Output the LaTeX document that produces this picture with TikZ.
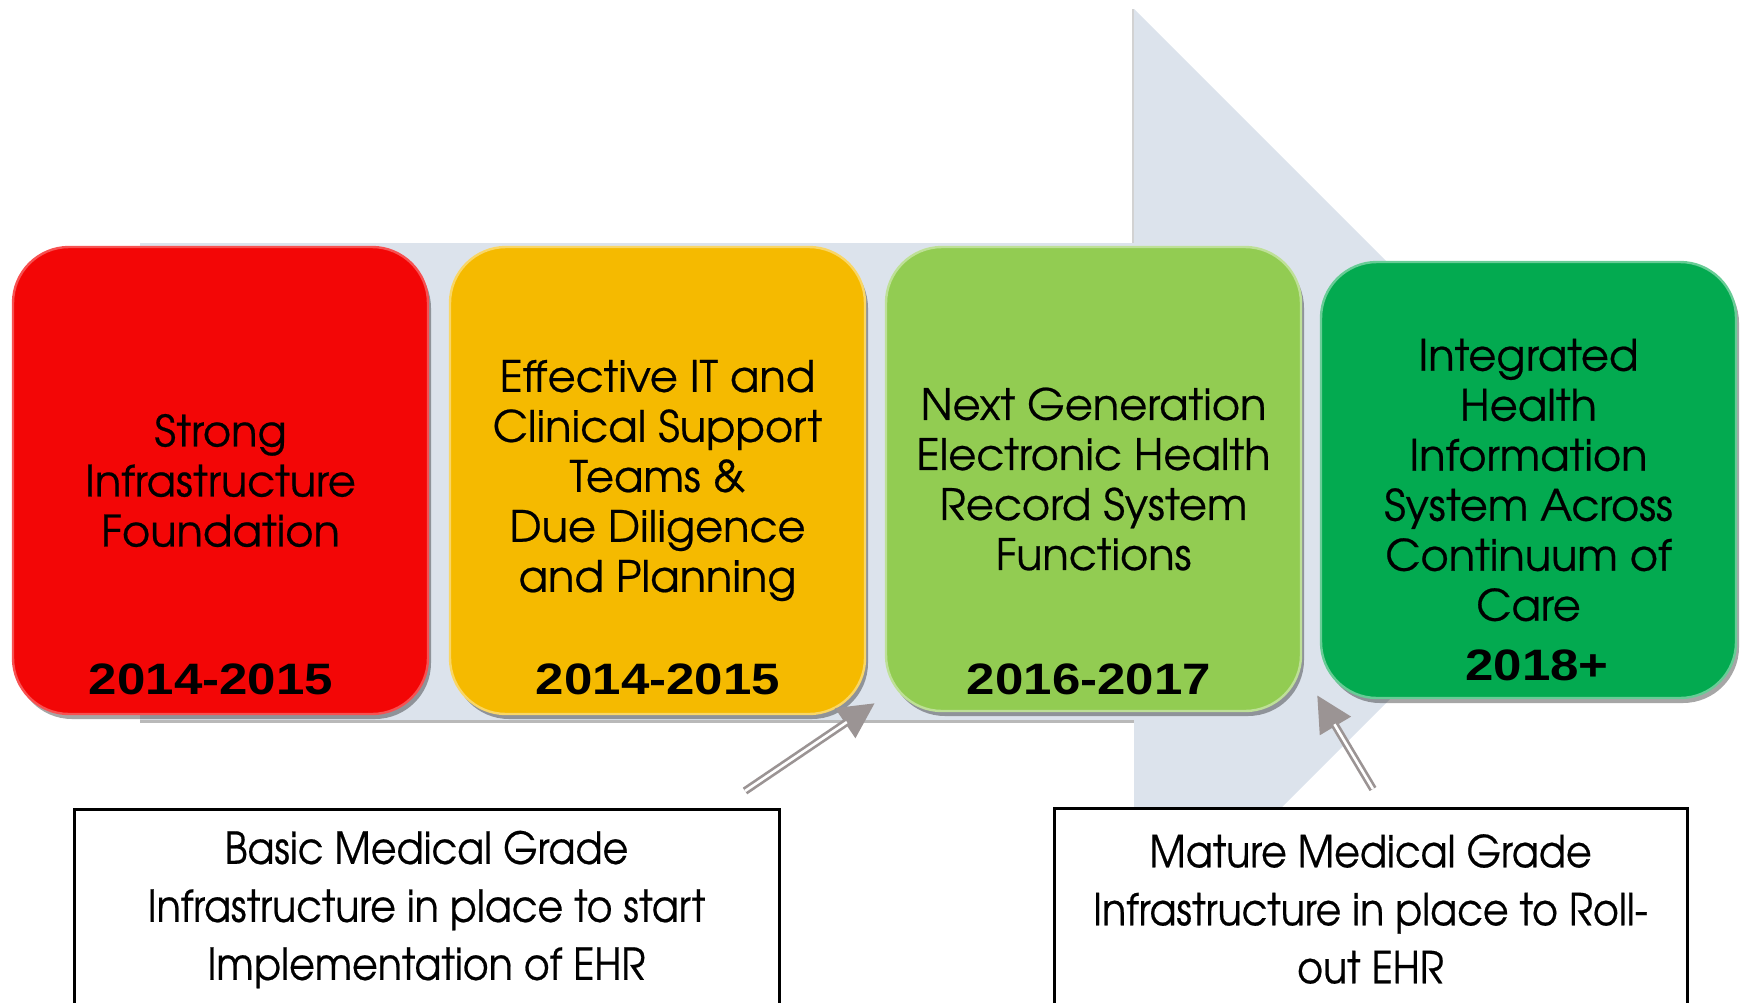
\documentclass[tikz,border=0pt]{standalone}
\usepackage{fontspec}
\setmainfont[FakeBold=0.5]{TeX Gyre Adventor}
\newfontfamily\notefont[FakeStretch=0.9,FakeBold=0.5]{TeX Gyre Adventor}
\newfontfamily\yearfont[FakeStretch=1.16]{Liberation Sans}
\usetikzlibrary{arrows.meta,shadows}

\definecolor{bandfill}{RGB}{220,227,236}
\definecolor{redbox}{RGB}{243,6,6}
\definecolor{goldbox}{RGB}{245,186,0}
\definecolor{limebox}{RGB}{146,204,82}
\definecolor{greenbox}{RGB}{3,170,80}
\definecolor{pointer}{RGB}{155,148,148}

\begin{document}
\begin{tikzpicture}[x=0.5pt,y=-0.5pt,
  phase/.style={rounded corners=28pt, minimum width=207.5pt, minimum height=233.5pt,
    align=center, inner sep=0pt, line width=1.2pt,
    font=\fontsize{21.6}{25}\selectfont,
    drop shadow={shadow xshift=1.5pt, shadow yshift=-2.5pt, opacity=0.35, fill=black}},
  year/.style={font=\yearfont\bfseries\fontsize{22}{24}\selectfont, inner sep=0pt},
  callout/.style={draw=black, fill=white, line width=1.5pt, align=center, inner sep=0pt,
    font=\notefont\fontsize{22}{29}\selectfont},
  pointer shaft/.style={draw=pointer, line width=4pt, -{Triangle[length=18pt,width=17pt]}},
  pointer gap/.style={draw=white, line width=1.3pt, shorten >=17pt}]

\useasboundingbox (0,0) rectangle (1743,1002);

% timeline band with its arrow head
\fill[bandfill] (140,243) -- (1134,243) -- (1134,9) -- (1607,482) -- (1134,955)
  -- (1134,720) -- (140,720) -- cycle;
\draw[gray!55, line width=1.5pt] (140,721.5) -- (1134,721.5);
\draw[gray!35, line width=0.8pt] (1133,9) -- (1133,243);

% phase boxes
\node[phase, fill=redbox, draw=redbox!70!white, minimum height=233.5pt] (b1) at (220.5,480.5)
  {Strong\\Infrastructure\\Foundation};
\node[phase, fill=goldbox, draw=goldbox!60!white, minimum height=233.5pt] (b2) at (657.5,480.5)
  {Effective IT and\\Clinical Support\\Teams \&\\Due Diligence\\and Planning};
\node[phase, fill=limebox, draw=limebox!60!white, minimum height=232pt] (b3) at (1093.5,479)
  {Next Generation\\Electronic Health\\Record System\\Functions};
\node[phase, fill=greenbox, draw=greenbox!60!white, minimum height=218pt] (b4) at (1528.5,480)
  {Integrated\\Health\\Information\\System Across\\Continuum of\\Care};

% years
\node[year] (y1) at (211,679) {2014-2015};
\node[year] (y2) at (658,679) {2014-2015};
\node[year] (y3) at (1089,679) {2016-2017};
\node[year] (y4) at (1537,665) {2018+};

% milestone notes
\node[callout, minimum width=352.5pt, minimum height=100.5pt] (c1) at (426.5,909.5)
  {Basic Medical Grade\\Infrastructure in place to start\\Implementation of EHR};
\node[callout, minimum width=316.5pt, minimum height=101pt] (c2) at (1370.5,909)
  {Mature Medical Grade\\Infrastructure in place to Roll-\\out EHR};

% pointers from the notes to the timeline
\coordinate (p1s) at (745,791);
\coordinate (p1e) at (875,703);
\coordinate (p2s) at (1373,789);
\coordinate (p2e) at (1317,695);
\draw[pointer shaft] (p1s) -- (p1e);
\draw[pointer gap] (p1s) -- (p1e);
\draw[pointer shaft] (p2s) -- (p2e);
\draw[pointer gap] (p2s) -- (p2e);
\end{tikzpicture}
\end{document}
